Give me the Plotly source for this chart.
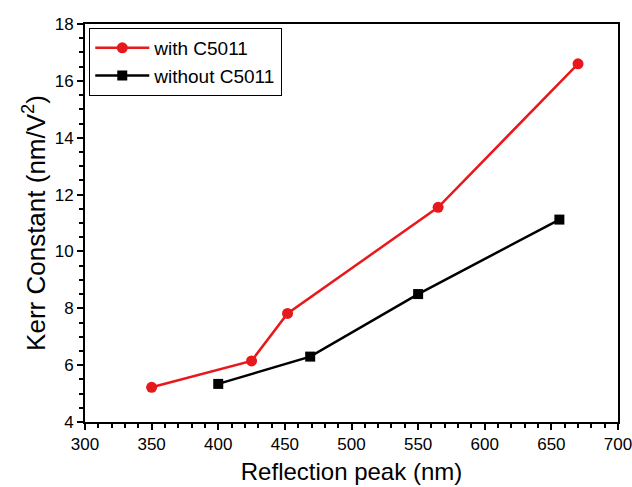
import plotly.graph_objects as go

with_x = [350, 425, 452, 565, 670]
with_y = [5.22, 6.15, 7.82, 11.55, 16.6]
without_x = [400, 469, 550, 656]
without_y = [5.34, 6.3, 8.5, 11.12]

fig = go.Figure()
fig.add_trace(go.Scatter(x=with_x, y=with_y, mode="lines+markers", name="with C5011",
                         line=dict(color="#e8191c", width=2.5),
                         marker=dict(symbol="circle", size=11, color="#e8191c")))
fig.add_trace(go.Scatter(x=without_x, y=without_y, mode="lines+markers", name="without C5011",
                         line=dict(color="black", width=2.5),
                         marker=dict(symbol="square", size=10, color="black")))

axis_common = dict(showline=True, linecolor="black", linewidth=2, mirror=True,
                   ticks="outside", ticklen=6, tickwidth=1.5, tickcolor="black",
                   showgrid=False, zeroline=False, automargin=False,
                   ticklabeloverflow="allow",
                   tickfont=dict(family="Arial, Liberation Sans", size=17, color="black"),
                   minor=dict(ticks="outside", ticklen=4, tickwidth=1.5, tickcolor="black"))

fig.update_layout(
    width=632, height=487,
    margin=dict(l=85, r=14, t=24, b=65),
    plot_bgcolor="white", paper_bgcolor="white",
    font=dict(family="Arial, Liberation Sans", color="black"),
    xaxis=dict(range=[300, 700], dtick=50, title=dict(text="Reflection peak (nm)",
               font=dict(size=24), standoff=10), **axis_common),
    yaxis=dict(range=[4, 18], dtick=2, title=dict(text="Kerr Constant (nm/V<sup>2</sup>)",
               font=dict(size=26), standoff=2), **axis_common),
    legend=dict(x=0.008, y=0.99, xanchor="left", yanchor="top",
                bordercolor="black", borderwidth=1, bgcolor="white",
                font=dict(size=19), tracegroupgap=0, itemwidth=54),
    showlegend=True,
)
fig.write_html("out.html")
